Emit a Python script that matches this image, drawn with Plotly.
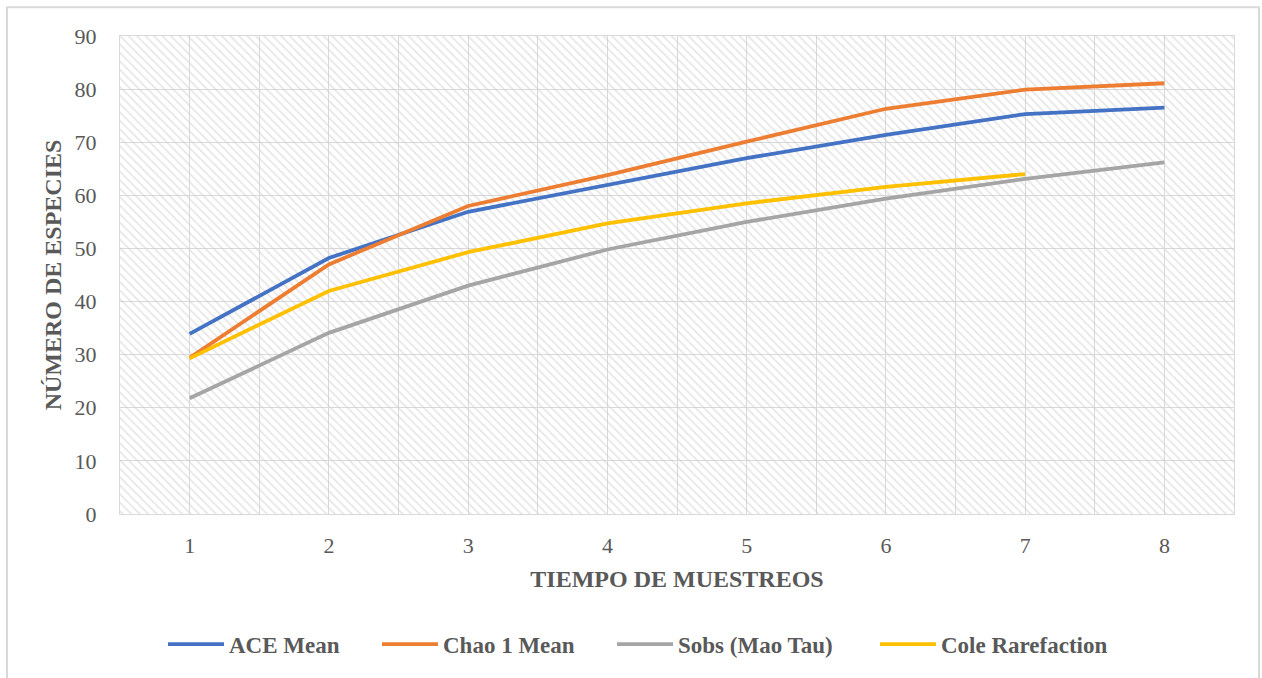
import plotly.graph_objects as go

muestreos = [1, 2, 3, 4, 5, 6, 7, 8]
ace_mean = [33.9, 48.2, 56.9, 61.9, 67.0, 71.4, 75.3, 76.5]
chao1_mean = [29.4, 47.0, 58.0, 63.8, 70.1, 76.3, 79.9, 81.1]
sobs_mao_tau = [21.8, 34.1, 43.0, 49.8, 55.0, 59.4, 63.1, 66.2]
cole_muestreos = [1, 2, 3, 4, 5, 6, 7]
cole_rarefaction = [29.3, 42.0, 49.3, 54.7, 58.5, 61.6, 64.0]
y_ticks = [0, 10, 20, 30, 40, 50, 60, 70, 80, 90]
Y_MAX = 90

FONT = "Liberation Serif, Times New Roman, serif"
TXT = "#595959"
GRID = "#d9d9d9"

W, H = 1262, 678
L, R, T, B = 120, 28, 36, 161
pw, ph = W - L - R, H - T - B

fig = go.Figure()

# patterned plot-area background
fig.add_trace(go.Bar(
    x=muestreos, y=[Y_MAX] * len(muestreos), width=1,
    marker=dict(color="rgba(0,0,0,0)", line=dict(width=0),
                pattern=dict(shape="\\", fgcolor="#cdcdcd", bgcolor="rgba(0,0,0,0)",
                             size=6, solidity=0.3)),
    showlegend=False, hoverinfo="skip"))

series = [
    ("ACE Mean", muestreos, ace_mean, "#4472C4", "legend", 168),
    ("Chao 1 Mean", muestreos, chao1_mean, "#ED7D31", "legend2", 382),
    ("Sobs (Mao Tau)", muestreos, sobs_mao_tau, "#A5A5A5", "legend3", 617),
    ("Cole Rarefaction", cole_muestreos, cole_rarefaction, "#FFC000", "legend4", 880),
]
legends = {}
for name, xs, ys, col, lg, px in series:
    fig.add_trace(go.Scatter(x=xs, y=ys, name=name, mode="lines", legend=lg,
                             line=dict(color=col, width=3.8)))
    legends[lg] = dict(x=(px - 5 - L) / pw, xanchor="left",
                       y=(517 - 648) / ph, yanchor="middle",
                       bgcolor="rgba(0,0,0,0)", itemwidth=56,
                       font=dict(size=23, color=TXT, family=FONT, weight="bold"))

fig.add_shape(type="rect", xref="paper", yref="paper",
              x0=(7 - L) / pw, x1=(1259 - L) / pw,
              y0=(517 - 690) / ph, y1=(517 - 7) / ph,
              line=dict(color=GRID, width=2), fillcolor="rgba(0,0,0,0)", layer="below")

fig.update_layout(
    width=W, height=H,
    margin=dict(l=L, r=R, t=T, b=B),
    paper_bgcolor="white", plot_bgcolor="white",
    font=dict(family=FONT, color=TXT),
    bargap=0,
    xaxis=dict(range=[0.5, 8.5], tickvals=muestreos, ticktext=[str(m) for m in muestreos],
               showgrid=True, gridcolor=GRID, gridwidth=1,
               minor=dict(tickvals=[m + 0.5 for m in [0] + muestreos], showgrid=True,
                          gridcolor=GRID, gridwidth=1),
               showline=True, linecolor=GRID, linewidth=1, mirror=True,
               ticks="", ticklabelstandoff=12, zeroline=False,
               tickfont=dict(size=22, color=TXT, family=FONT),
               title=dict(text="<b>TIEMPO DE MUESTREOS</b>", standoff=12,
                          font=dict(size=24, color=TXT, family=FONT))),
    yaxis=dict(range=[0, Y_MAX], tickvals=y_ticks, showgrid=True, gridcolor=GRID, gridwidth=1,
               showline=True, linecolor=GRID, linewidth=1, mirror=True,
               ticks="", ticklabelstandoff=18, zeroline=False,
               tickfont=dict(size=22, color=TXT, family=FONT),
               title=dict(text="<b>NÚMERO DE ESPECIES</b>", standoff=6,
                          font=dict(size=24, color=TXT, family=FONT))),
    **legends,
)

fig.write_html("out.html")
